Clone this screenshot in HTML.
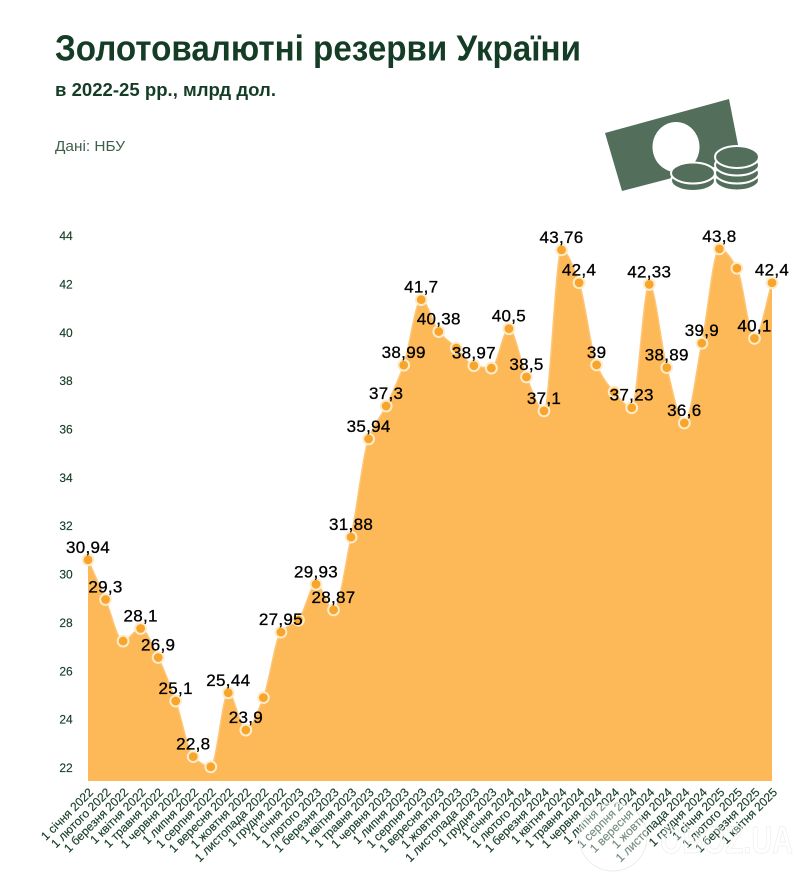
<!DOCTYPE html>
<html lang="uk">
<head>
<meta charset="utf-8">
<title>Золотовалютні резерви України</title>
<style>
html,body{margin:0;padding:0;background:#fff;width:811px;height:887px;overflow:hidden}
svg{display:block;font-family:"Liberation Sans",sans-serif}
</style>
</head>
<body>
<svg id="chart" width="811" height="887" viewBox="0 0 811 887" xmlns="http://www.w3.org/2000/svg">
  <text x="55" y="60.5" font-size="36" font-weight="700" fill="#153d26" textLength="526" lengthAdjust="spacingAndGlyphs">Золотовалютні резерви України</text>
  <text x="55" y="96" font-size="18.5" font-weight="700" fill="#153d26" textLength="221" lengthAdjust="spacingAndGlyphs">в 2022-25 рр., млрд дол.</text>
  <text x="55" y="151" font-size="15" fill="#3f5f4b" textLength="70" lengthAdjust="spacingAndGlyphs">Дані: НБУ</text>

  <g>
    <polygon points="605,133 729,99 741,160 622,191" fill="#536f5c"/>
    <ellipse cx="676" cy="147" rx="23.5" ry="25" fill="#fff"/>
    <g fill="#536f5c" stroke="#fff" stroke-width="2">
      <ellipse cx="737" cy="180" rx="22" ry="10.5"/>
      <ellipse cx="737" cy="173" rx="22" ry="10.5"/>
      <ellipse cx="737" cy="165" rx="22" ry="10.5"/>
      <ellipse cx="737" cy="157" rx="22" ry="11"/>
    </g>
    <g fill="#536f5c" stroke="#fff" stroke-width="2">
      <ellipse cx="693" cy="180.5" rx="22" ry="10.5"/>
      <ellipse cx="693" cy="173" rx="22" ry="10.5"/>
    </g>
  </g>

  <g id="y-axis"></g>
  <path id="area" fill="#fdb858"></path>
  <path id="line" fill="none" stroke="#fdc677" stroke-width="1.5"></path>
  <g id="points"></g>
  <g id="value-labels"></g>
  <g id="x-axis"></g>

  <g>
    <circle cx="613" cy="837" r="34" fill="#fff" fill-opacity="0.4"/>
    <circle cx="613" cy="837" r="34" fill="none" stroke="#ececec" stroke-width="1"/>
    <text x="660" y="853" font-size="38" font-weight="700" fill="#fff" fill-opacity="0.3" stroke="#ececec" stroke-width="0.7" textLength="133" lengthAdjust="spacingAndGlyphs">OBOZ.UA</text>
  </g>
</svg>

<script>
const categories = ["1 січня 2022","1 лютого 2022","1 березня 2022","1 квітня 2022","1 травня 2022","1 червня 2022","1 липня 2022","1 серпня 2022","1 вересня 2022","1 жовтня 2022","1 листопада 2022","1 грудня 2022","1 січня 2023","1 лютого 2023","1 березня 2023","1 квітня 2023","1 травня 2023","1 червня 2023","1 липня 2023","1 серпня 2023","1 вересня 2023","1 жовтня 2023","1 листопада 2023","1 грудня 2023","1 січня 2024","1 лютого 2024","1 березня 2024","1 квітня 2024","1 травня 2024","1 червня 2024","1 липня 2024","1 серпня 2024","1 вересня 2024","1 жовтня 2024","1 листопада 2024","1 грудня 2024","1 січня 2025","1 лютого 2025","1 березня 2025","1 квітня 2025"];
const values = [30.94,29.3,27.58,28.1,26.9,25.1,22.8,22.38,25.44,23.9,25.24,27.95,28.45,29.93,28.87,31.88,35.94,37.3,38.99,41.7,40.38,39.7,38.97,38.87,40.5,38.5,37.1,43.76,42.4,39,37.88,37.23,42.33,38.89,36.6,39.9,43.8,43.0,40.1,42.4];
const unlabeledIndexes = [2,7,10,12,21,23,30,37];
const yTicks = [22,24,26,28,30,32,34,36,38,40,42,44];

const NS = "http://www.w3.org/2000/svg";
const xLeft = 88, xRight = 772, baseY = 781;
function xScale(i){ return xLeft + i * (xRight - xLeft) / (categories.length - 1); }
function yScale(v){ return 776 - (v - 22) * 24.18; }
function make(tag, attrs, parent, text){
  const el = document.createElementNS(NS, tag);
  for (const k in attrs) el.setAttribute(k, attrs[k]);
  if (text !== undefined) el.textContent = text;
  parent.appendChild(el);
  return el;
}

/* y axis */
const yAxis = document.getElementById("y-axis");
yTicks.forEach(function(t){
  const el = make("text", {x:66, y:yScale(t)-4, "font-size":12, "text-anchor":"middle", fill:"#153d26", stroke:"#153d26", "stroke-width":0.15}, yAxis, String(t));
  
  
});

/* monotone cubic curve */
function curvePath(pts){
  const n = pts.length, d = [], m = [];
  for (let i = 0; i < n-1; i++) d.push((pts[i+1][1]-pts[i][1])/(pts[i+1][0]-pts[i][0]));
  m[0] = d[0]; m[n-1] = d[n-2];
  for (let i = 1; i < n-1; i++){
    m[i] = d[i-1]*d[i] <= 0 ? 0 : 2*d[i-1]*d[i]/(d[i-1]+d[i]);
  }
  let s = "M" + pts[0][0] + "," + pts[0][1];
  for (let i = 0; i < n-1; i++){
    const h = (pts[i+1][0]-pts[i][0])/3;
    s += "C" + (pts[i][0]+h) + "," + (pts[i][1]+m[i]*h) + " " + (pts[i+1][0]-h) + "," + (pts[i+1][1]-m[i+1]*h) + " " + pts[i+1][0] + "," + pts[i+1][1];
  }
  return s;
}
const pts = values.map(function(v,i){ return [xScale(i), yScale(v)]; });
const curve = curvePath(pts);
document.getElementById("line").setAttribute("d", curve);
document.getElementById("area").setAttribute("d", curve + "L" + xRight + "," + baseY + "L" + xLeft + "," + baseY + "Z");

/* points */
const pointsG = document.getElementById("points");
pts.forEach(function(p){
  const c = make("circle", {cx:p[0], cy:p[1], r:5.4, fill:"#f9a52c", stroke:"#fdeccb", "stroke-width":2}, pointsG);
  
  
});

/* value labels */
const labelsG = document.getElementById("value-labels");
values.forEach(function(v,i){
  if (unlabeledIndexes.indexOf(i) !== -1) return;
  const t = make("text", {x:pts[i][0], y:pts[i][1]-7, "font-size":17, "letter-spacing":0.3, "text-anchor":"middle", fill:"#000", stroke:"#000", "stroke-width":0.3}, labelsG, String(v).replace(".", ","));
  
  
});

/* x axis */
const xAxis = document.getElementById("x-axis");
categories.forEach(function(c,i){
  const x = xScale(i) + 6, y = 793;
  const t = make("text", {x:x, y:y, "font-size":12, "text-anchor":"end", fill:"#153d26", stroke:"#153d26", "stroke-width":0.15, transform:"rotate(-45 "+x+" "+y+")"}, xAxis, c);
  
  
});
</script>
</body>
</html>
